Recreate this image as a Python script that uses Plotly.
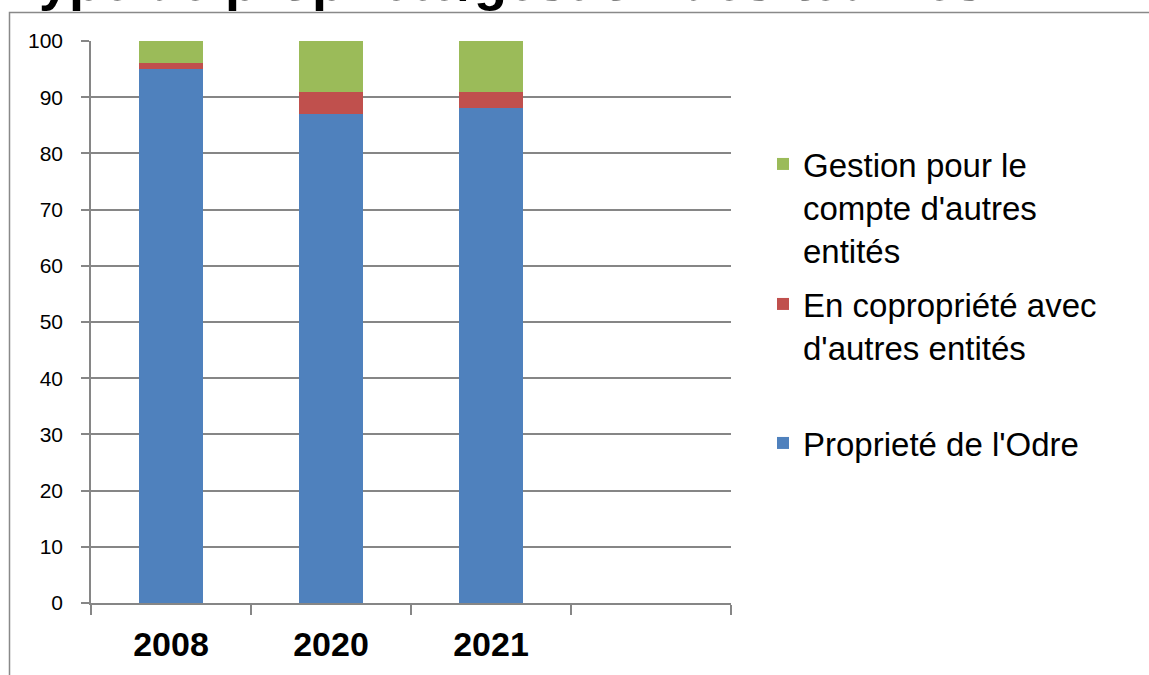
import plotly.graph_objects as go

categories = ["2008", "2020", "2021"]
propriete = [95, 87, 88]
copropriete = [1, 4, 3]
gestion = [4, 9, 9]

series_names = [
    "Proprieté de l'Odre",
    "En copropriété avec<br>d'autres entités",
    "Gestion pour le<br>compte d'autres<br>entités",
]
series_colors = ["#4F81BD", "#C0504D", "#9BBB59"]
title_text = "Type de propriété/gestion des œuvres"

W, H = 1149, 675
L, R, T, B = 91, 418, 41, 72
PW, PH = W - L - R, H - T - B


def px_x(p):
    return (p - L) / PW


def px_y(p):
    return (H - B - p) / PH


fig = go.Figure()
values = [propriete, copropriete, gestion]
legends = ["legend3", "legend2", "legend"]
for name, vals, col, lg in zip(series_names, values, series_colors, legends):
    fig.add_trace(go.Bar(
        x=categories, y=vals, name=name, marker_color=col,
        marker_line_width=0, legend=lg,
    ))

legend_font = dict(family="Liberation Sans, Arial, sans-serif", size=33, color="black")
legend_common = dict(x=px_x(763), xanchor="left", yanchor="top", font=legend_font,
                     valign="top", bgcolor="rgba(0,0,0,0)", borderwidth=0)

fig.update_layout(
    width=W, height=H,
    margin=dict(l=L, r=R, t=T, b=B, autoexpand=False),
    paper_bgcolor="white", plot_bgcolor="white",
    barmode="stack", bargap=0.6,
    showlegend=True,
    legend=dict(y=px_y(136), **legend_common),
    legend2=dict(y=px_y(276), **legend_common),
    legend3=dict(y=px_y(415), **legend_common),
    xaxis=dict(
        type="category", categoryorder="array", categoryarray=categories + [" "],
        range=[-0.5, 3.5], tickson="boundaries", ticks="outside", ticklen=10,
        tickcolor="#868686", tickwidth=1.5, showline=True, linecolor="#868686", linewidth=1.5,
        showgrid=False, ticklabelstandoff=10,
        tickfont=dict(family="Liberation Sans, Arial, sans-serif",
                      size=34, color="black", weight="bold"),
    ),
    yaxis=dict(
        range=[0, 100], dtick=10, ticks="outside", ticklen=8, tickcolor="#868686", tickwidth=1.5,
        showline=True, linecolor="#868686", linewidth=1.5, showgrid=True, gridcolor="#868686",
        gridwidth=1.5, zeroline=False, ticklabelstandoff=14,
        tickfont=dict(family="Liberation Sans, Arial, sans-serif", size=21, color="black"),
    ),
    shapes=[dict(type="rect", xref="paper", yref="paper",
                 x0=px_x(9.5), x1=px_x(1200), y0=px_y(720), y1=px_y(12.5),
                 line=dict(color="#898989", width=1.5), fillcolor="rgba(0,0,0,0)", layer="below")],
    annotations=[dict(text="<b>" + title_text + "</b>", xref="paper", yref="paper",
                      x=px_x(8), y=px_y(13), xanchor="left", yanchor="bottom", showarrow=False,
                      font=dict(family="Liberation Sans, Arial, sans-serif", size=54, color="black"))],
)

fig.write_html("out.html", config={"displayModeBar": False},
               post_script="document.body.style.margin='0';")
